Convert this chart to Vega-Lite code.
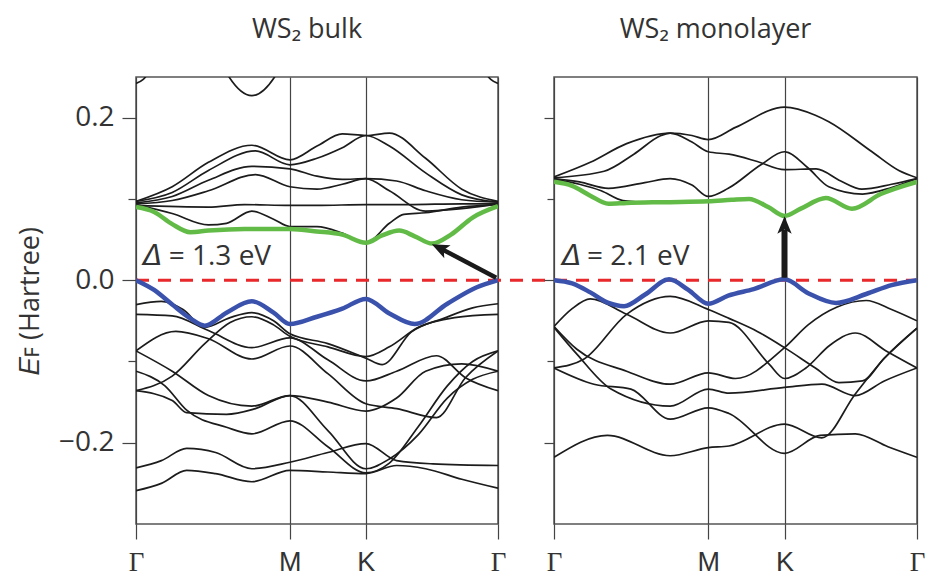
{
"$schema":"https://vega.github.io/schema/vega-lite/v6.json",
"background":"white",
"padding":{"left":15,"top":15,"right":5,"bottom":0},
"config":{"view":{"stroke":"#555","strokeWidth":1.5},"font":"Open Sans"},
"datasets":{
"bands":[
{"p":"L","b":"g","t":"g","x":0,"e":0.090},{"p":"L","b":"g","t":"g","x":0.05,"e":0.084},{"p":"L","b":"g","t":"g","x":0.1,"e":0.069},{"p":"L","b":"g","t":"g","x":0.15,"e":0.059},{"p":"L","b":"g","t":"g","x":0.2,"e":0.061},{"p":"L","b":"g","t":"g","x":0.3,"e":0.063},{"p":"L","b":"g","t":"g","x":0.425,"e":0.063},{"p":"L","b":"g","t":"g","x":0.5,"e":0.060},{"p":"L","b":"g","t":"g","x":0.57,"e":0.056},{"p":"L","b":"g","t":"g","x":0.635,"e":0.046},{"p":"L","b":"g","t":"g","x":0.68,"e":0.055},{"p":"L","b":"g","t":"g","x":0.727,"e":0.061},{"p":"L","b":"g","t":"g","x":0.77,"e":0.054},{"p":"L","b":"g","t":"g","x":0.818,"e":0.045},{"p":"L","b":"g","t":"g","x":0.87,"e":0.056},{"p":"L","b":"g","t":"g","x":0.93,"e":0.077},{"p":"L","b":"g","t":"g","x":1,"e":0.091},
{"p":"L","b":"b","t":"b","x":0,"e":0.0},{"p":"L","b":"b","t":"b","x":0.05,"e":-0.012},{"p":"L","b":"b","t":"b","x":0.1,"e":-0.030},{"p":"L","b":"b","t":"b","x":0.15,"e":-0.047},{"p":"L","b":"b","t":"b","x":0.19,"e":-0.056},{"p":"L","b":"b","t":"b","x":0.25,"e":-0.040},{"p":"L","b":"b","t":"b","x":0.32,"e":-0.026},{"p":"L","b":"b","t":"b","x":0.38,"e":-0.040},{"p":"L","b":"b","t":"b","x":0.425,"e":-0.054},{"p":"L","b":"b","t":"b","x":0.5,"e":-0.045},{"p":"L","b":"b","t":"b","x":0.57,"e":-0.035},{"p":"L","b":"b","t":"b","x":0.635,"e":-0.023},{"p":"L","b":"b","t":"b","x":0.7,"e":-0.041},{"p":"L","b":"b","t":"b","x":0.77,"e":-0.054},{"p":"L","b":"b","t":"b","x":0.86,"e":-0.029},{"p":"L","b":"b","t":"b","x":0.94,"e":-0.009},{"p":"L","b":"b","t":"b","x":1,"e":0.0},
{"p":"L","b":"c1","t":"k","x":0,"e":0.097},{"p":"L","b":"c1","t":"k","x":0.1,"e":0.115},{"p":"L","b":"c1","t":"k","x":0.2,"e":0.145},{"p":"L","b":"c1","t":"k","x":0.32,"e":0.166},{"p":"L","b":"c1","t":"k","x":0.425,"e":0.148},{"p":"L","b":"c1","t":"k","x":0.5,"e":0.165},{"p":"L","b":"c1","t":"k","x":0.57,"e":0.180},{"p":"L","b":"c1","t":"k","x":0.635,"e":0.178},{"p":"L","b":"c1","t":"k","x":0.7,"e":0.181},{"p":"L","b":"c1","t":"k","x":0.8,"e":0.150},{"p":"L","b":"c1","t":"k","x":0.9,"e":0.112},{"p":"L","b":"c1","t":"k","x":1,"e":0.097},
{"p":"L","b":"c2","t":"k","x":0,"e":0.097},{"p":"L","b":"c2","t":"k","x":0.1,"e":0.108},{"p":"L","b":"c2","t":"k","x":0.2,"e":0.135},{"p":"L","b":"c2","t":"k","x":0.33,"e":0.159},{"p":"L","b":"c2","t":"k","x":0.425,"e":0.142},{"p":"L","b":"c2","t":"k","x":0.5,"e":0.150},{"p":"L","b":"c2","t":"k","x":0.57,"e":0.163},{"p":"L","b":"c2","t":"k","x":0.635,"e":0.178},{"p":"L","b":"c2","t":"k","x":0.7,"e":0.165},{"p":"L","b":"c2","t":"k","x":0.8,"e":0.132},{"p":"L","b":"c2","t":"k","x":0.9,"e":0.105},{"p":"L","b":"c2","t":"k","x":1,"e":0.096},
{"p":"L","b":"c3","t":"k","x":0,"e":0.095},{"p":"L","b":"c3","t":"k","x":0.1,"e":0.103},{"p":"L","b":"c3","t":"k","x":0.2,"e":0.123},{"p":"L","b":"c3","t":"k","x":0.32,"e":0.140},{"p":"L","b":"c3","t":"k","x":0.425,"e":0.137},{"p":"L","b":"c3","t":"k","x":0.5,"e":0.128},{"p":"L","b":"c3","t":"k","x":0.57,"e":0.124},{"p":"L","b":"c3","t":"k","x":0.635,"e":0.125},{"p":"L","b":"c3","t":"k","x":0.72,"e":0.122},{"p":"L","b":"c3","t":"k","x":0.8,"e":0.110},{"p":"L","b":"c3","t":"k","x":0.9,"e":0.099},{"p":"L","b":"c3","t":"k","x":1,"e":0.096},
{"p":"L","b":"c4","t":"k","x":0,"e":0.094},{"p":"L","b":"c4","t":"k","x":0.1,"e":0.098},{"p":"L","b":"c4","t":"k","x":0.2,"e":0.110},{"p":"L","b":"c4","t":"k","x":0.33,"e":0.130},{"p":"L","b":"c4","t":"k","x":0.425,"e":0.115},{"p":"L","b":"c4","t":"k","x":0.5,"e":0.112},{"p":"L","b":"c4","t":"k","x":0.57,"e":0.118},{"p":"L","b":"c4","t":"k","x":0.635,"e":0.125},{"p":"L","b":"c4","t":"k","x":0.7,"e":0.110},{"p":"L","b":"c4","t":"k","x":0.8,"e":0.085},{"p":"L","b":"c4","t":"k","x":0.9,"e":0.088},{"p":"L","b":"c4","t":"k","x":1,"e":0.094},
{"p":"L","b":"c5","t":"k","x":0,"e":0.092},{"p":"L","b":"c5","t":"k","x":0.2,"e":0.090},{"p":"L","b":"c5","t":"k","x":0.3,"e":0.093},{"p":"L","b":"c5","t":"k","x":0.425,"e":0.092},{"p":"L","b":"c5","t":"k","x":0.5,"e":0.092},{"p":"L","b":"c5","t":"k","x":0.635,"e":0.093},{"p":"L","b":"c5","t":"k","x":0.75,"e":0.093},{"p":"L","b":"c5","t":"k","x":0.9,"e":0.094},{"p":"L","b":"c5","t":"k","x":1,"e":0.094},
{"p":"L","b":"c6","t":"k","x":0,"e":0.093},{"p":"L","b":"c6","t":"k","x":0.1,"e":0.082},{"p":"L","b":"c6","t":"k","x":0.2,"e":0.068},{"p":"L","b":"c6","t":"k","x":0.25,"e":0.070},{"p":"L","b":"c6","t":"k","x":0.32,"e":0.085},{"p":"L","b":"c6","t":"k","x":0.38,"e":0.075},{"p":"L","b":"c6","t":"k","x":0.425,"e":0.066},{"p":"L","b":"c6","t":"k","x":0.5,"e":0.066},{"p":"L","b":"c6","t":"k","x":0.57,"e":0.058},{"p":"L","b":"c6","t":"k","x":0.635,"e":0.046},{"p":"L","b":"c6","t":"k","x":0.7,"e":0.070},{"p":"L","b":"c6","t":"k","x":0.74,"e":0.081},{"p":"L","b":"c6","t":"k","x":0.8,"e":0.083},{"p":"L","b":"c6","t":"k","x":0.9,"e":0.090},{"p":"L","b":"c6","t":"k","x":1,"e":0.093},
{"p":"L","b":"t1","t":"k","x":0.18,"e":0.33},{"p":"L","b":"t1","t":"k","x":0.25,"e":0.255},{"p":"L","b":"t1","t":"k","x":0.32,"e":0.227},{"p":"L","b":"t1","t":"k","x":0.39,"e":0.255},{"p":"L","b":"t1","t":"k","x":0.46,"e":0.33},
{"p":"L","b":"t2","t":"k","x":0,"e":0.242},{"p":"L","b":"t2","t":"k","x":0.02,"e":0.247},{"p":"L","b":"t2","t":"k","x":0.045,"e":0.262},
{"p":"L","b":"t3","t":"k","x":0.955,"e":0.262},{"p":"L","b":"t3","t":"k","x":0.98,"e":0.247},{"p":"L","b":"t3","t":"k","x":1,"e":0.242},
{"p":"L","b":"v1","t":"k","x":0,"e":-0.030},{"p":"L","b":"v1","t":"k","x":0.07,"e":-0.026},{"p":"L","b":"v1","t":"k","x":0.13,"e":-0.036},{"p":"L","b":"v1","t":"k","x":0.19,"e":-0.058},{"p":"L","b":"v1","t":"k","x":0.26,"e":-0.046},{"p":"L","b":"v1","t":"k","x":0.32,"e":-0.040},{"p":"L","b":"v1","t":"k","x":0.38,"e":-0.050},{"p":"L","b":"v1","t":"k","x":0.425,"e":-0.066},{"p":"L","b":"v1","t":"k","x":0.53,"e":-0.078},{"p":"L","b":"v1","t":"k","x":0.635,"e":-0.096},{"p":"L","b":"v1","t":"k","x":0.68,"e":-0.104},{"p":"L","b":"v1","t":"k","x":0.76,"e":-0.064},{"p":"L","b":"v1","t":"k","x":0.85,"e":-0.047},{"p":"L","b":"v1","t":"k","x":0.93,"e":-0.034},{"p":"L","b":"v1","t":"k","x":1,"e":-0.029},
{"p":"L","b":"v2","t":"k","x":0,"e":-0.042},{"p":"L","b":"v2","t":"k","x":0.1,"e":-0.044},{"p":"L","b":"v2","t":"k","x":0.2,"e":-0.062},{"p":"L","b":"v2","t":"k","x":0.32,"e":-0.083},{"p":"L","b":"v2","t":"k","x":0.425,"e":-0.071},{"p":"L","b":"v2","t":"k","x":0.53,"e":-0.098},{"p":"L","b":"v2","t":"k","x":0.635,"e":-0.124},{"p":"L","b":"v2","t":"k","x":0.72,"e":-0.112},{"p":"L","b":"v2","t":"k","x":0.83,"e":-0.093},{"p":"L","b":"v2","t":"k","x":0.91,"e":-0.120},{"p":"L","b":"v2","t":"k","x":1,"e":-0.136},
{"p":"L","b":"v3","t":"k","x":0,"e":-0.136},{"p":"L","b":"v3","t":"k","x":0.1,"e":-0.118},{"p":"L","b":"v3","t":"k","x":0.19,"e":-0.078},{"p":"L","b":"v3","t":"k","x":0.26,"e":-0.052},{"p":"L","b":"v3","t":"k","x":0.32,"e":-0.045},{"p":"L","b":"v3","t":"k","x":0.38,"e":-0.055},{"p":"L","b":"v3","t":"k","x":0.425,"e":-0.069},{"p":"L","b":"v3","t":"k","x":0.53,"e":-0.082},{"p":"L","b":"v3","t":"k","x":0.635,"e":-0.094},{"p":"L","b":"v3","t":"k","x":0.7,"e":-0.082},{"p":"L","b":"v3","t":"k","x":0.78,"e":-0.058},{"p":"L","b":"v3","t":"k","x":0.88,"e":-0.046},{"p":"L","b":"v3","t":"k","x":1,"e":-0.042},
{"p":"L","b":"v4","t":"k","x":0,"e":-0.087},{"p":"L","b":"v4","t":"k","x":0.11,"e":-0.063},{"p":"L","b":"v4","t":"k","x":0.2,"e":-0.072},{"p":"L","b":"v4","t":"k","x":0.32,"e":-0.097},{"p":"L","b":"v4","t":"k","x":0.425,"e":-0.081},{"p":"L","b":"v4","t":"k","x":0.53,"e":-0.115},{"p":"L","b":"v4","t":"k","x":0.635,"e":-0.152},{"p":"L","b":"v4","t":"k","x":0.72,"e":-0.158},{"p":"L","b":"v4","t":"k","x":0.83,"e":-0.169},{"p":"L","b":"v4","t":"k","x":0.91,"e":-0.120},{"p":"L","b":"v4","t":"k","x":1,"e":-0.087},
{"p":"L","b":"v5","t":"k","x":0,"e":-0.087},{"p":"L","b":"v5","t":"k","x":0.1,"e":-0.112},{"p":"L","b":"v5","t":"k","x":0.2,"e":-0.142},{"p":"L","b":"v5","t":"k","x":0.32,"e":-0.155},{"p":"L","b":"v5","t":"k","x":0.425,"e":-0.142},{"p":"L","b":"v5","t":"k","x":0.53,"e":-0.150},{"p":"L","b":"v5","t":"k","x":0.635,"e":-0.161},{"p":"L","b":"v5","t":"k","x":0.72,"e":-0.145},{"p":"L","b":"v5","t":"k","x":0.8,"e":-0.112},{"p":"L","b":"v5","t":"k","x":0.9,"e":-0.103},{"p":"L","b":"v5","t":"k","x":1,"e":-0.112},
{"p":"L","b":"v6","t":"k","x":0,"e":-0.112},{"p":"L","b":"v6","t":"k","x":0.08,"e":-0.130},{"p":"L","b":"v6","t":"k","x":0.14,"e":-0.160},{"p":"L","b":"v6","t":"k","x":0.25,"e":-0.181},{"p":"L","b":"v6","t":"k","x":0.32,"e":-0.189},{"p":"L","b":"v6","t":"k","x":0.425,"e":-0.173},{"p":"L","b":"v6","t":"k","x":0.53,"e":-0.205},{"p":"L","b":"v6","t":"k","x":0.635,"e":-0.237},{"p":"L","b":"v6","t":"k","x":0.7,"e":-0.225},{"p":"L","b":"v6","t":"k","x":0.78,"e":-0.180},{"p":"L","b":"v6","t":"k","x":0.86,"e":-0.130},{"p":"L","b":"v6","t":"k","x":0.93,"e":-0.100},{"p":"L","b":"v6","t":"k","x":1,"e":-0.087},
{"p":"L","b":"v7","t":"k","x":0,"e":-0.136},{"p":"L","b":"v7","t":"k","x":0.1,"e":-0.148},{"p":"L","b":"v7","t":"k","x":0.14,"e":-0.163},{"p":"L","b":"v7","t":"k","x":0.25,"e":-0.165},{"p":"L","b":"v7","t":"k","x":0.33,"e":-0.158},{"p":"L","b":"v7","t":"k","x":0.425,"e":-0.142},{"p":"L","b":"v7","t":"k","x":0.53,"e":-0.185},{"p":"L","b":"v7","t":"k","x":0.635,"e":-0.232},{"p":"L","b":"v7","t":"k","x":0.7,"e":-0.220},{"p":"L","b":"v7","t":"k","x":0.78,"e":-0.190},{"p":"L","b":"v7","t":"k","x":0.86,"e":-0.145},{"p":"L","b":"v7","t":"k","x":0.93,"e":-0.122},{"p":"L","b":"v7","t":"k","x":1,"e":-0.112},
{"p":"L","b":"w1","t":"k","x":0,"e":-0.231},{"p":"L","b":"w1","t":"k","x":0.07,"e":-0.222},{"p":"L","b":"w1","t":"k","x":0.14,"e":-0.207},{"p":"L","b":"w1","t":"k","x":0.22,"e":-0.212},{"p":"L","b":"w1","t":"k","x":0.32,"e":-0.232},{"p":"L","b":"w1","t":"k","x":0.425,"e":-0.224},{"p":"L","b":"w1","t":"k","x":0.53,"e":-0.212},{"p":"L","b":"w1","t":"k","x":0.635,"e":-0.201},{"p":"L","b":"w1","t":"k","x":0.72,"e":-0.222},{"p":"L","b":"w1","t":"k","x":0.82,"e":-0.226},{"p":"L","b":"w1","t":"k","x":1,"e":-0.228},
{"p":"L","b":"w2","t":"k","x":0,"e":-0.259},{"p":"L","b":"w2","t":"k","x":0.07,"e":-0.250},{"p":"L","b":"w2","t":"k","x":0.14,"e":-0.234},{"p":"L","b":"w2","t":"k","x":0.22,"e":-0.238},{"p":"L","b":"w2","t":"k","x":0.32,"e":-0.248},{"p":"L","b":"w2","t":"k","x":0.425,"e":-0.234},{"p":"L","b":"w2","t":"k","x":0.53,"e":-0.236},{"p":"L","b":"w2","t":"k","x":0.635,"e":-0.238},{"p":"L","b":"w2","t":"k","x":0.72,"e":-0.228},{"p":"L","b":"w2","t":"k","x":0.8,"e":-0.232},{"p":"L","b":"w2","t":"k","x":0.9,"e":-0.245},{"p":"L","b":"w2","t":"k","x":1,"e":-0.256},
{"p":"R","b":"g","t":"g","x":0,"e":0.121},{"p":"R","b":"g","t":"g","x":0.05,"e":0.116},{"p":"R","b":"g","t":"g","x":0.1,"e":0.104},{"p":"R","b":"g","t":"g","x":0.15,"e":0.094},{"p":"R","b":"g","t":"g","x":0.2,"e":0.095},{"p":"R","b":"g","t":"g","x":0.3,"e":0.096},{"p":"R","b":"g","t":"g","x":0.425,"e":0.097},{"p":"R","b":"g","t":"g","x":0.49,"e":0.099},{"p":"R","b":"g","t":"g","x":0.537,"e":0.100},{"p":"R","b":"g","t":"g","x":0.59,"e":0.090},{"p":"R","b":"g","t":"g","x":0.635,"e":0.079},{"p":"R","b":"g","t":"g","x":0.68,"e":0.088},{"p":"R","b":"g","t":"g","x":0.749,"e":0.101},{"p":"R","b":"g","t":"g","x":0.821,"e":0.088},{"p":"R","b":"g","t":"g","x":0.9,"e":0.106},{"p":"R","b":"g","t":"g","x":1,"e":0.121},
{"p":"R","b":"b","t":"b","x":0,"e":0.0},{"p":"R","b":"b","t":"b","x":0.05,"e":-0.004},{"p":"R","b":"b","t":"b","x":0.1,"e":-0.015},{"p":"R","b":"b","t":"b","x":0.15,"e":-0.028},{"p":"R","b":"b","t":"b","x":0.193,"e":-0.032},{"p":"R","b":"b","t":"b","x":0.25,"e":-0.018},{"p":"R","b":"b","t":"b","x":0.317,"e":0.001},{"p":"R","b":"b","t":"b","x":0.37,"e":-0.012},{"p":"R","b":"b","t":"b","x":0.425,"e":-0.029},{"p":"R","b":"b","t":"b","x":0.48,"e":-0.019},{"p":"R","b":"b","t":"b","x":0.55,"e":-0.011},{"p":"R","b":"b","t":"b","x":0.635,"e":0.001},{"p":"R","b":"b","t":"b","x":0.7,"e":-0.016},{"p":"R","b":"b","t":"b","x":0.777,"e":-0.028},{"p":"R","b":"b","t":"b","x":0.86,"e":-0.017},{"p":"R","b":"b","t":"b","x":0.93,"e":-0.006},{"p":"R","b":"b","t":"b","x":1,"e":0.0},
{"p":"R","b":"c1","t":"k","x":0,"e":0.127},{"p":"R","b":"c1","t":"k","x":0.1,"e":0.145},{"p":"R","b":"c1","t":"k","x":0.2,"e":0.168},{"p":"R","b":"c1","t":"k","x":0.32,"e":0.181},{"p":"R","b":"c1","t":"k","x":0.38,"e":0.178},{"p":"R","b":"c1","t":"k","x":0.425,"e":0.173},{"p":"R","b":"c1","t":"k","x":0.5,"e":0.188},{"p":"R","b":"c1","t":"k","x":0.635,"e":0.213},{"p":"R","b":"c1","t":"k","x":0.72,"e":0.203},{"p":"R","b":"c1","t":"k","x":0.757,"e":0.195},{"p":"R","b":"c1","t":"k","x":0.876,"e":0.158},{"p":"R","b":"c1","t":"k","x":0.95,"e":0.135},{"p":"R","b":"c1","t":"k","x":1,"e":0.126},
{"p":"R","b":"c2","t":"k","x":0,"e":0.126},{"p":"R","b":"c2","t":"k","x":0.138,"e":0.134},{"p":"R","b":"c2","t":"k","x":0.22,"e":0.155},{"p":"R","b":"c2","t":"k","x":0.295,"e":0.178},{"p":"R","b":"c2","t":"k","x":0.32,"e":0.181},{"p":"R","b":"c2","t":"k","x":0.38,"e":0.170},{"p":"R","b":"c2","t":"k","x":0.425,"e":0.158},{"p":"R","b":"c2","t":"k","x":0.482,"e":0.155},{"p":"R","b":"c2","t":"k","x":0.56,"e":0.146},{"p":"R","b":"c2","t":"k","x":0.635,"e":0.136},{"p":"R","b":"c2","t":"k","x":0.722,"e":0.137},{"p":"R","b":"c2","t":"k","x":0.79,"e":0.122},{"p":"R","b":"c2","t":"k","x":0.848,"e":0.112},{"p":"R","b":"c2","t":"k","x":0.93,"e":0.118},{"p":"R","b":"c2","t":"k","x":1,"e":0.125},
{"p":"R","b":"c3","t":"k","x":0,"e":0.125},{"p":"R","b":"c3","t":"k","x":0.07,"e":0.121},{"p":"R","b":"c3","t":"k","x":0.15,"e":0.113},{"p":"R","b":"c3","t":"k","x":0.25,"e":0.120},{"p":"R","b":"c3","t":"k","x":0.32,"e":0.125},{"p":"R","b":"c3","t":"k","x":0.38,"e":0.117},{"p":"R","b":"c3","t":"k","x":0.425,"e":0.103},{"p":"R","b":"c3","t":"k","x":0.48,"e":0.113},{"p":"R","b":"c3","t":"k","x":0.57,"e":0.142},{"p":"R","b":"c3","t":"k","x":0.635,"e":0.158},{"p":"R","b":"c3","t":"k","x":0.7,"e":0.138},{"p":"R","b":"c3","t":"k","x":0.757,"e":0.115},{"p":"R","b":"c3","t":"k","x":0.85,"e":0.106},{"p":"R","b":"c3","t":"k","x":0.93,"e":0.114},{"p":"R","b":"c3","t":"k","x":1,"e":0.125},
{"p":"R","b":"c4","t":"k","x":0,"e":0.124},{"p":"R","b":"c4","t":"k","x":0.07,"e":0.118},{"p":"R","b":"c4","t":"k","x":0.13,"e":0.110},{"p":"R","b":"c4","t":"k","x":0.19,"e":0.098},{"p":"R","b":"c4","t":"k","x":0.26,"e":0.096},{"p":"R","b":"c4","t":"k","x":0.34,"e":0.096},
{"p":"R","b":"v1","t":"k","x":0,"e":-0.057},{"p":"R","b":"v1","t":"k","x":0.05,"e":-0.035},{"p":"R","b":"v1","t":"k","x":0.1,"e":-0.023},{"p":"R","b":"v1","t":"k","x":0.2,"e":-0.042},{"p":"R","b":"v1","t":"k","x":0.32,"e":-0.065},{"p":"R","b":"v1","t":"k","x":0.425,"e":-0.050},{"p":"R","b":"v1","t":"k","x":0.482,"e":-0.052},{"p":"R","b":"v1","t":"k","x":0.592,"e":-0.103},{"p":"R","b":"v1","t":"k","x":0.635,"e":-0.121},{"p":"R","b":"v1","t":"k","x":0.694,"e":-0.108},{"p":"R","b":"v1","t":"k","x":0.76,"e":-0.080},{"p":"R","b":"v1","t":"k","x":0.83,"e":-0.065},{"p":"R","b":"v1","t":"k","x":0.915,"e":-0.087},{"p":"R","b":"v1","t":"k","x":1,"e":-0.108},
{"p":"R","b":"v2","t":"k","x":0,"e":-0.108},{"p":"R","b":"v2","t":"k","x":0.083,"e":-0.097},{"p":"R","b":"v2","t":"k","x":0.2,"e":-0.042},{"p":"R","b":"v2","t":"k","x":0.32,"e":-0.020},{"p":"R","b":"v2","t":"k","x":0.425,"e":-0.036},{"p":"R","b":"v2","t":"k","x":0.482,"e":-0.047},{"p":"R","b":"v2","t":"k","x":0.56,"e":-0.063},{"p":"R","b":"v2","t":"k","x":0.635,"e":-0.083},{"p":"R","b":"v2","t":"k","x":0.72,"e":-0.108},{"p":"R","b":"v2","t":"k","x":0.785,"e":-0.126},{"p":"R","b":"v2","t":"k","x":0.85,"e":-0.124},{"p":"R","b":"v2","t":"k","x":0.91,"e":-0.096},{"p":"R","b":"v2","t":"k","x":1,"e":-0.059},
{"p":"R","b":"v3","t":"k","x":0,"e":-0.057},{"p":"R","b":"v3","t":"k","x":0.063,"e":-0.085},{"p":"R","b":"v3","t":"k","x":0.2,"e":-0.112},{"p":"R","b":"v3","t":"k","x":0.32,"e":-0.128},{"p":"R","b":"v3","t":"k","x":0.425,"e":-0.114},{"p":"R","b":"v3","t":"k","x":0.5,"e":-0.121},{"p":"R","b":"v3","t":"k","x":0.635,"e":-0.083},{"p":"R","b":"v3","t":"k","x":0.7,"e":-0.055},{"p":"R","b":"v3","t":"k","x":0.78,"e":-0.033},{"p":"R","b":"v3","t":"k","x":0.86,"e":-0.025},{"p":"R","b":"v3","t":"k","x":0.93,"e":-0.036},{"p":"R","b":"v3","t":"k","x":1,"e":-0.050},
{"p":"R","b":"v4","t":"k","x":0,"e":-0.058},{"p":"R","b":"v4","t":"k","x":0.063,"e":-0.091},{"p":"R","b":"v4","t":"k","x":0.157,"e":-0.134},{"p":"R","b":"v4","t":"k","x":0.32,"e":-0.155},{"p":"R","b":"v4","t":"k","x":0.425,"e":-0.134},{"p":"R","b":"v4","t":"k","x":0.482,"e":-0.139},{"p":"R","b":"v4","t":"k","x":0.635,"e":-0.132},{"p":"R","b":"v4","t":"k","x":0.738,"e":-0.128},{"p":"R","b":"v4","t":"k","x":0.83,"e":-0.142},{"p":"R","b":"v4","t":"k","x":0.91,"e":-0.124},{"p":"R","b":"v4","t":"k","x":1,"e":-0.108},
{"p":"R","b":"v5","t":"k","x":0,"e":-0.108},{"p":"R","b":"v5","t":"k","x":0.11,"e":-0.128},{"p":"R","b":"v5","t":"k","x":0.212,"e":-0.134},{"p":"R","b":"v5","t":"k","x":0.32,"e":-0.171},{"p":"R","b":"v5","t":"k","x":0.425,"e":-0.157},{"p":"R","b":"v5","t":"k","x":0.482,"e":-0.164},{"p":"R","b":"v5","t":"k","x":0.635,"e":-0.213},{"p":"R","b":"v5","t":"k","x":0.733,"e":-0.191},{"p":"R","b":"v5","t":"k","x":0.83,"e":-0.189},{"p":"R","b":"v5","t":"k","x":0.92,"e":-0.205},{"p":"R","b":"v5","t":"k","x":1,"e":-0.218},
{"p":"R","b":"v6","t":"k","x":0,"e":-0.218},{"p":"R","b":"v6","t":"k","x":0.147,"e":-0.191},{"p":"R","b":"v6","t":"k","x":0.32,"e":-0.216},{"p":"R","b":"v6","t":"k","x":0.425,"e":-0.206},{"p":"R","b":"v6","t":"k","x":0.482,"e":-0.204},{"p":"R","b":"v6","t":"k","x":0.635,"e":-0.177},{"p":"R","b":"v6","t":"k","x":0.738,"e":-0.194},{"p":"R","b":"v6","t":"k","x":0.83,"e":-0.140},{"p":"R","b":"v6","t":"k","x":0.91,"e":-0.096},{"p":"R","b":"v6","t":"k","x":1,"e":-0.059}
],
"notes":[
{"p":"L","x":0.015,"e":0.029,"label":"𝛥 = 1.3 eV"},
{"p":"R","x":0.016,"e":0.029,"label":"𝛥 = 2.1 eV"}
],
"shafts":[
{"p":"L","x":0.995,"e":0.003,"x2":0.8425,"e2":0.0388},
{"p":"R","x":0.635,"e":0.003,"x2":0.635,"e2":0.062}
],
"heads":[
{"p":"L","x":0.8425,"e":0.0388,"angle":296},
{"p":"R","x":0.635,"e":0.066,"angle":0}
],
"zero":[
{"p":"L","x":0,"e":0,"x2":1.16},
{"p":"R","x":0,"e":0,"x2":1}
]
},
"hconcat":[
{
"width":362,"height":447,
"title":{"text":"WS₂ bulk","fontSize":27,"font":"Open Sans","fontWeight":"normal","color":"#333","anchor":"middle","dx":-10,"offset":33},
"encoding":{
"x":{"field":"x","type":"quantitative","scale":{"domain":[0,1],"nice":false,"zero":false},
"axis":{"values":[0,0.425,0.635,1],"labelExpr":"datum.value < 0.2 || datum.value > 0.9 ? 'Γ' : (datum.value < 0.5 ? 'M' : 'K')","title":null,"grid":true,"gridColor":"#444","gridWidth":1.2,"domain":false,"tickSize":15,"tickColor":"#444","tickWidth":1.2,"labelFont":{"condition":{"test":"datum.value > 0.2 && datum.value < 0.9","value":"Liberation Sans"},"value":"Liberation Serif"},"labelFontSize":27,"labelColor":"#333","labelPadding":10,"labelFlush":false}},
"y":{"field":"e","type":"quantitative","scale":{"domain":[-0.3,0.25],"nice":false,"zero":false},
"axis":{"values":[-0.2,-0.1,0,0.1,0.2],"labelExpr":"abs(datum.value) > 0.05 && abs(datum.value) < 0.15 ? '' : format(datum.value,'.1f')","title":"𝐸ꜰ (Hartree)","titleFont":"Open Sans","titleFontSize":27,"titleFontWeight":"normal","titleColor":"#333","titlePadding":14,"grid":false,"domain":false,"tickSize":{"condition":{"test":"abs(datum.value) > 0.05 && abs(datum.value) < 0.15","value":8},"value":14},"tickColor":"#444","tickWidth":1.2,"labelFont":"Open Sans","labelFontSize":28,"labelColor":"#333","labelPadding":8}}
},
"layer":[
{"data":{"name":"bands"},"transform":[{"filter":"datum.p=='L' && datum.t=='k'"}],"mark":{"type":"line","interpolate":"monotone","clip":true,"stroke":"#1c1c1c","strokeWidth":1.7},"encoding":{"detail":{"field":"b"}}},
{"data":{"name":"zero"},"transform":[{"filter":"datum.p=='L'"}],"mark":{"type":"rule","stroke":"#e8282b","strokeWidth":3,"strokeDash":[13,9]},"encoding":{"x2":{"field":"x2"}}},
{"data":{"name":"bands"},"transform":[{"filter":"datum.p=='L' && datum.t=='g'"}],"mark":{"type":"line","interpolate":"monotone","clip":true,"stroke":"#62bb46","strokeWidth":4.5},"encoding":{"detail":{"field":"b"}}},
{"data":{"name":"bands"},"transform":[{"filter":"datum.p=='L' && datum.t=='b'"}],"mark":{"type":"line","interpolate":"monotone","clip":true,"stroke":"#3b52ad","strokeWidth":4.5},"encoding":{"detail":{"field":"b"}}},
{"data":{"name":"notes"},"transform":[{"filter":"datum.p=='L'"}],"mark":{"type":"text","align":"left","baseline":"middle","fontSize":28,"font":"Open Sans","color":"#333"},"encoding":{"text":{"field":"label"}}},
{"data":{"name":"shafts"},"transform":[{"filter":"datum.p=='L'"}],"mark":{"type":"rule","stroke":"#1a1a1a","strokeWidth":4.5},"encoding":{"x2":{"field":"x2"},"y2":{"field":"e2"}}},
{"data":{"name":"heads"},"transform":[{"filter":"datum.p=='L'"}],"mark":{"type":"point","shape":"M0,-1L0.7,0.7L0,0.3L-0.7,0.7Z","filled":true,"color":"#1a1a1a","opacity":1,"size":420},"encoding":{"angle":{"field":"angle","type":"quantitative","scale":null}}}
]
},
{
"width":363,"height":447,
"title":{"text":"WS₂ monolayer","fontSize":27,"font":"Open Sans","fontWeight":"normal","color":"#333","anchor":"middle","dx":-20,"offset":33},
"encoding":{
"x":{"field":"x","type":"quantitative","scale":{"domain":[0,1],"nice":false,"zero":false},
"axis":{"values":[0,0.425,0.635,1],"labelExpr":"datum.value < 0.2 || datum.value > 0.9 ? 'Γ' : (datum.value < 0.5 ? 'M' : 'K')","title":null,"grid":true,"gridColor":"#444","gridWidth":1.2,"domain":false,"tickSize":15,"tickColor":"#444","tickWidth":1.2,"labelFont":{"condition":{"test":"datum.value > 0.2 && datum.value < 0.9","value":"Liberation Sans"},"value":"Liberation Serif"},"labelFontSize":27,"labelColor":"#333","labelPadding":10,"labelFlush":false}},
"y":{"field":"e","type":"quantitative","scale":{"domain":[-0.3,0.25],"nice":false,"zero":false},
"axis":{"values":[-0.2,-0.1,0,0.1,0.2],"labels":false,"title":null,"grid":false,"domain":false,"tickSize":{"condition":{"test":"abs(datum.value) > 0.05 && abs(datum.value) < 0.15","value":7},"value":10},"tickColor":"#444","tickWidth":1.2}}
},
"layer":[
{"data":{"name":"bands"},"transform":[{"filter":"datum.p=='R' && datum.t=='k'"}],"mark":{"type":"line","interpolate":"monotone","clip":true,"stroke":"#1c1c1c","strokeWidth":1.7},"encoding":{"detail":{"field":"b"}}},
{"data":{"name":"zero"},"transform":[{"filter":"datum.p=='R'"}],"mark":{"type":"rule","stroke":"#e8282b","strokeWidth":3,"strokeDash":[13,9]},"encoding":{"x2":{"field":"x2"}}},
{"data":{"name":"bands"},"transform":[{"filter":"datum.p=='R' && datum.t=='g'"}],"mark":{"type":"line","interpolate":"monotone","clip":true,"stroke":"#62bb46","strokeWidth":4.5},"encoding":{"detail":{"field":"b"}}},
{"data":{"name":"bands"},"transform":[{"filter":"datum.p=='R' && datum.t=='b'"}],"mark":{"type":"line","interpolate":"monotone","clip":true,"stroke":"#3b52ad","strokeWidth":4.5},"encoding":{"detail":{"field":"b"}}},
{"data":{"name":"notes"},"transform":[{"filter":"datum.p=='R'"}],"mark":{"type":"text","align":"left","baseline":"middle","fontSize":28,"font":"Open Sans","color":"#333"},"encoding":{"text":{"field":"label"}}},
{"data":{"name":"shafts"},"transform":[{"filter":"datum.p=='R'"}],"mark":{"type":"rule","stroke":"#1a1a1a","strokeWidth":6},"encoding":{"x2":{"field":"x2"},"y2":{"field":"e2"}}},
{"data":{"name":"heads"},"transform":[{"filter":"datum.p=='R'"}],"mark":{"type":"point","shape":"M0,-1L0.7,0.7L0,0.3L-0.7,0.7Z","filled":true,"color":"#1a1a1a","opacity":1,"size":420},"encoding":{"angle":{"field":"angle","type":"quantitative","scale":null}}}
]
}
],
"bounds":"flush",
"spacing":56
}
